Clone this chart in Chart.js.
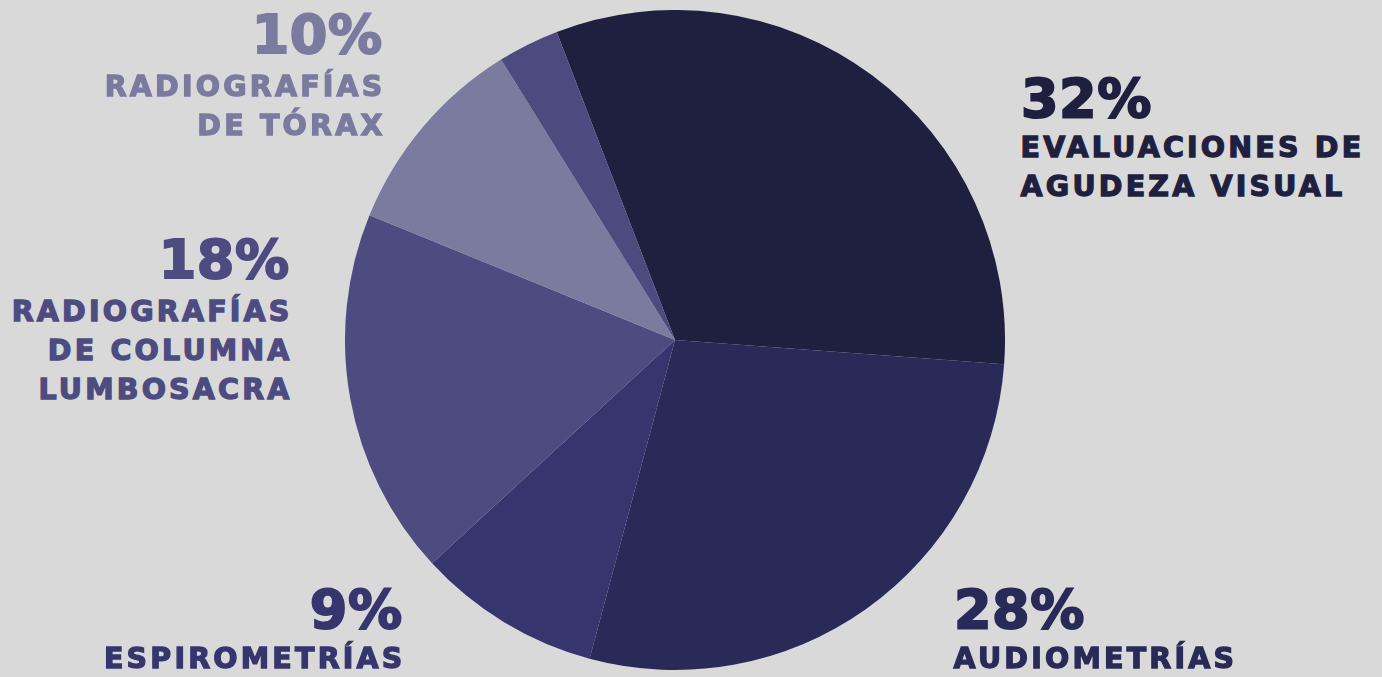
<!DOCTYPE html>
<html lang="es">
<head>
    <meta charset="UTF-8">
    <title>Estudios realizados</title>
    <script src="https://cdn.jsdelivr.net/npm/chart.js"></script>
    <style>
        html, body {
            margin: 0;
            padding: 0;
            background-color: #d9d9d9;
            width: 1382px;
            height: 677px;
            overflow: hidden;
            font-family: "DejaVu Sans", sans-serif;
            font-weight: bold;
        }
        .pie-wrap {
            position: absolute;
            left: 345px;
            top: 10px;
            width: 660px;
            height: 660px;
        }
        .label {
            position: absolute;
            white-space: nowrap;
        }
        .pct {
            font-size: 54px;
            line-height: 55px;
            letter-spacing: 0.5px;
            -webkit-text-stroke: 2px currentColor;
        }
        .name {
            font-size: 28.5px;
            line-height: 39px;
            letter-spacing: 3.2px;
            -webkit-text-stroke: 1.3px currentColor;
        }
        .right { text-align: right; }
    </style>
</head>
<body>
    <div class="pie-wrap">
        <canvas id="pieChart" width="660" height="660"></canvas>
    </div>
    <div id="labels"></div>

    <script>
        const categories = [
            'EVALUACIONES DE AGUDEZA VISUAL',
            'AUDIOMETRÍAS',
            'ESPIROMETRÍAS',
            'RADIOGRAFÍAS DE COLUMNA LUMBOSACRA',
            'RADIOGRAFÍAS DE TÓRAX',
            'Otros'
        ];
        const values = [32, 28, 9, 18, 10, 3];
        const colors = ['#1f1f3f', '#2a2a58', '#37356e', '#4d4b80', '#7b7a9f', '#4c4a7f'];

        // label blocks: lines of text for each labelled slice
        const labelLines = [
            ['EVALUACIONES DE', 'AGUDEZA VISUAL'],
            ['AUDIOMETRÍAS'],
            ['ESPIROMETRÍAS'],
            ['RADIOGRAFÍAS', 'DE COLUMNA', 'LUMBOSACRA'],
            ['RADIOGRAFÍAS', 'DE TÓRAX'],
            null
        ];

        // where each text block sits (cap tops of percentage / first name line)
        const labelPos = [
            { x: 1020, pctTop: 77, nameTop: 137, align: 'left' },
            { x: 953, pctTop: 588, nameTop: 648, align: 'left' },
            { x: 403, pctTop: 588, nameTop: 648, align: 'right' },
            { x: 290, pctTop: 238, nameTop: 301, align: 'right' },
            { x: 383, pctTop: 13, nameTop: 76, align: 'right' },
            null
        ];

        new Chart(document.getElementById('pieChart'), {
            type: 'pie',
            data: {
                labels: categories,
                datasets: [{
                    data: values,
                    backgroundColor: colors,
                    borderWidth: 0
                }]
            },
            options: {
                responsive: false,
                animation: false,
                rotation: -21,
                layout: { padding: 0 },
                plugins: {
                    legend: { display: false },
                    tooltip: { enabled: false }
                }
            }
        });

        const holder = document.getElementById('labels');
        values.forEach((v, i) => {
            const pos = labelPos[i];
            if (!pos) return;
            const pct = document.createElement('div');
            pct.className = 'label pct';
            pct.textContent = v + '%';
            pct.style.color = colors[i];
            pct.style.top = (pos.pctTop - 6) + 'px';

            const name = document.createElement('div');
            name.className = 'label name';
            name.innerHTML = labelLines[i].join('<br>');
            name.style.color = colors[i];
            name.style.top = (pos.nameTop - 8.6) + 'px';

            if (pos.align === 'left') {
                pct.style.left = (pos.x + 1) + 'px';
                name.style.left = (pos.x + 0.6) + 'px';
            } else {
                pct.classList.add('right');
                name.classList.add('right');
                // trailing letter-spacing compensation
                pct.style.right = (1382 - pos.x + 1 - 0.5) + 'px';
                name.style.right = (1382 - pos.x - 3.2 + 0.6) + 'px';
            }
            holder.appendChild(pct);
            holder.appendChild(name);
        });
    </script>
</body>
</html>
